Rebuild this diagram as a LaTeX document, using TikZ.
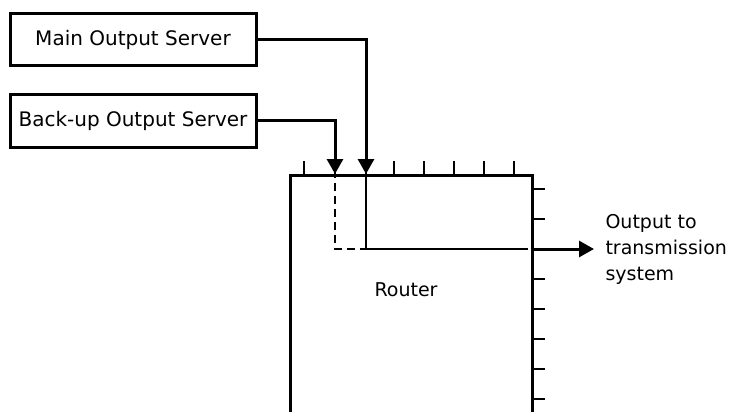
\documentclass[tikz,border=0pt]{standalone}
\usepackage{fontspec}
\setmainfont{DejaVu Sans}
\usetikzlibrary{arrows.meta}
\begin{document}
\begin{tikzpicture}[x=1pt,y=-1pt,
  serverbox/.style={draw, line width=3pt, minimum width=246pt, minimum height=52pt, inner sep=0pt, font=\fontsize{20}{24}\selectfont},
  conn/.style={line width=3pt, -{Triangle[width=16pt,length=15pt]}},
  thin/.style={line width=1.3pt},
  tick/.style={line width=1.5pt}]
\useasboundingbox (0,0) rectangle (729,412);
\clip (0,0) rectangle (729,412);
\node[serverbox] (main) at (133,39.5) {Main Output Server};
\node[serverbox] (backup) at (133,121) {Back-up Output Server};
\node[draw, line width=3pt, minimum width=242pt, minimum height=300pt, inner sep=0pt, anchor=north west] (router) at (289,174) {};
\node[font=\fontsize{19}{23}\selectfont] (routertext) at (406,290) {Router};
\coordinate (mainin) at (366,174);
\coordinate (backin) at (335,174);
\coordinate (switch) at (366,249);
\coordinate (backsw) at (335,249);
\coordinate (outport) at (531,249);
\coordinate (outtip) at (594,249);
\node[anchor=west, align=left, font=\fontsize{19}{26}\selectfont] (outtext) at (602,249) {Output to\\transmission\\system};
% ticks on the router
\foreach \x in {304,394,424,454,484,514}
  \draw[tick] (\x,161) -- (\x,174);
\foreach \y in {189,219,279,309,339,369,399}
  \draw[tick] (531,\y) -- (545,\y);
% inputs
\draw[conn] (main.east) -| (mainin);
\draw[conn] (backup.east) -| (backin);
% switch inside the router
\draw[thin] ([yshift=4pt]mainin) -- (switch) -- ([xshift=-3pt]outport);
\draw[thin, dash pattern=on 8pt off 5pt] ([yshift=4pt]backin) -- (backsw) -- (switch);
% output
\draw[conn] (outport) -- (outtip);
\end{tikzpicture}
\end{document}
